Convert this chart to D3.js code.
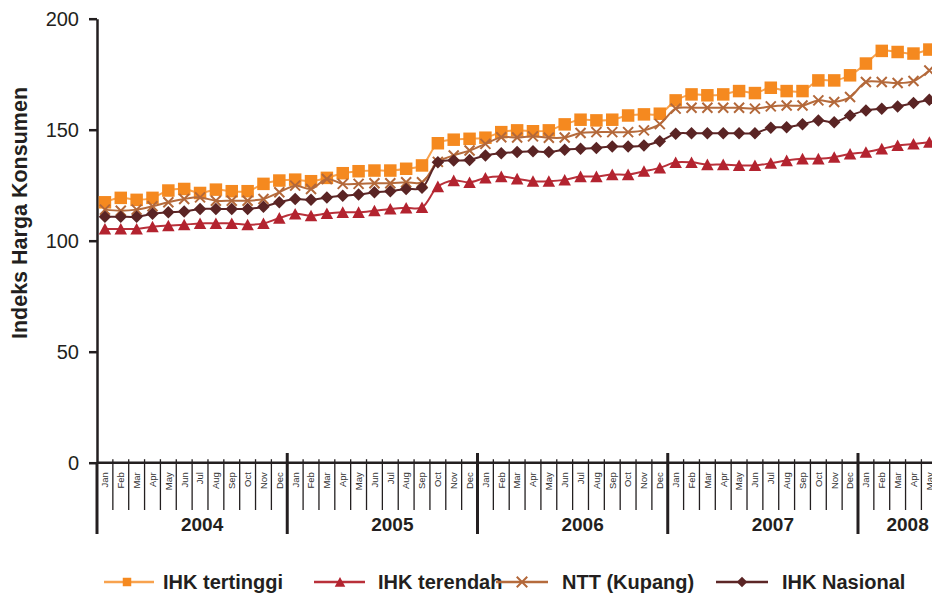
<!DOCTYPE html>
<html>
<head>
<meta charset="utf-8">
<script src="https://cdn.jsdelivr.net/npm/d3@7/dist/d3.min.js"></script>
<style>
  html, body { margin: 0; padding: 0; background: #fff; }
  svg { display: block; font-family: "Liberation Sans", Arial, Helvetica, sans-serif; }
</style>
</head>
<body>
<svg id="chart" width="932" height="595"></svg>
<script>
// Monthly consumer price index, Jan 2004 – May 2008
const monthNames = ["Jan","Feb","Mar","Apr","May","Jun","Jul","Aug","Sep","Oct","Nov","Dec"];
const years = ["2004","2005","2006","2007","2008"];
const monthsInYear = [12, 12, 12, 12, 5];
const yTicks = [0, 50, 100, 150, 200];

const ihkTertinggi = [
  117.3, 119.3, 118.4, 119.3, 122.6, 123.3, 121.5, 123.0, 122.3, 122.3, 125.6, 127.1,
  127.5, 126.8, 128.3, 130.4, 131.3, 131.6, 131.6, 132.4, 133.9, 143.9, 145.5, 145.9,
  146.4, 148.9, 149.7, 149.3, 149.7, 152.4, 154.5, 154.2, 154.5, 156.4, 156.9, 157.2,
  163.2, 165.9, 165.5, 165.9, 167.4, 166.5, 168.9, 167.4, 167.4, 172.2, 172.2, 174.5,
  179.8, 185.5, 185.0, 184.3, 186.1
];
const ihkTerendah = [
  105.3, 105.3, 105.3, 106.3, 106.8, 107.2, 107.8, 107.8, 107.8, 107.2, 107.8, 110.2,
  112.1, 111.3, 112.3, 112.8, 112.8, 113.5, 114.3, 114.8, 115.0, 124.4, 127.1, 126.3,
  128.3, 128.9, 127.9, 126.8, 126.8, 127.4, 128.9, 128.9, 129.8, 129.8, 131.3, 132.8,
  135.3, 135.3, 134.3, 134.3, 133.9, 133.9, 134.9, 136.1, 136.9, 136.9, 137.6, 139.1,
  139.9, 141.4, 142.9, 143.6, 144.4
];
const nttKupang = [
  114.0, 113.5, 114.0, 115.5, 117.3, 118.8, 119.5, 118.0, 118.0, 118.0, 118.8, 121.8,
  124.8, 123.3, 127.8, 125.6, 125.6, 125.9, 125.9, 126.3, 126.3, 135.5, 138.4, 140.6,
  143.6, 146.6, 146.5, 147.0, 146.4, 146.5, 148.5, 148.9, 148.9, 148.9, 149.7, 152.5,
  159.5, 159.9, 159.9, 159.9, 159.9, 159.5, 160.5, 160.9, 160.9, 163.2, 162.5, 164.7,
  171.5, 171.5, 171.0, 171.9, 176.7
];
const ihkNasional = [
  110.8, 110.8, 110.8, 112.1, 112.8, 113.1, 114.3, 114.3, 114.3, 114.3, 115.3, 117.3,
  118.8, 118.4, 119.5, 120.3, 120.8, 121.8, 122.3, 123.3, 123.8, 135.3, 136.1, 136.4,
  138.4, 139.4, 139.9, 140.3, 139.9, 141.0, 141.4, 141.8, 142.4, 142.4, 142.9, 144.8,
  148.2, 148.4, 148.4, 148.4, 148.4, 148.4, 150.9, 151.1, 152.4, 154.2, 153.4, 156.4,
  158.7, 159.4, 160.5, 162.0, 163.5
];
const seriesNames = ["IHK tertinggi", "IHK terendah", "NTT (Kupang)", "IHK Nasional"];

// Month labels for every period on the axis
const periods = [];
years.forEach((yr, yi) => {
  for (let m = 0; m < monthsInYear[yi]; m++) periods.push({ year: yr, month: monthNames[m] });
});
const idx = d3.range(periods.length);

const series = [
  { name: seriesNames[0], values: ihkTertinggi, line: "#F8A24E", fill: "#F5891F", marker: "square" },
  { name: seriesNames[1], values: ihkTerendah,  line: "#B9303A", fill: "#B3232F", marker: "triangle" },
  { name: seriesNames[2], values: nttKupang,    line: "#B56B3C", fill: "#B3683A", marker: "cross" },
  { name: seriesNames[3], values: ihkNasional,  line: "#5C2626", fill: "#5A2424", marker: "diamond" }
];

const svg = d3.select("#chart");
const ink = "#231F20";
const step = 15.854;
const x0 = 97;

const x = d3.scaleBand().domain(idx).range([x0, x0 + step * idx.length]).paddingInner(0).paddingOuter(0);
const y = d3.scaleLinear().domain([0, 200]).range([462.7, 18.7]);
const xc = i => x(i) + x.bandwidth() / 2;

function markerPath(type, s) {
  const h = s / 2;
  if (type === "square") return `M${-h},${-h}H${h}V${h}H${-h}Z`;
  if (type === "triangle") return `M0,${-h * 0.95}L${h},${h * 0.9}L${-h},${h * 0.9}Z`;
  if (type === "diamond") return `M0,${-h}L${h},0L0,${h}L${-h},0Z`;
  return `M${-h},${-h}L${h},${h}M${-h},${h}L${h},${-h}`;
}

// ---- Y axis ----
const yAxis = svg.append("g")
  .attr("transform", `translate(${x0},0)`)
  .call(d3.axisLeft(y).tickValues(yTicks).tickSize(8).tickSizeOuter(0).tickPadding(10));
yAxis.select(".domain").attr("stroke", ink).attr("stroke-width", 2.5);
yAxis.selectAll(".tick line").attr("stroke", ink).attr("stroke-width", 2.5);
yAxis.selectAll(".tick text").attr("fill", ink).attr("font-size", 20)
  .attr("font-family", "'Liberation Sans', Arial, sans-serif");

svg.append("text")
  .attr("transform", `translate(27,${213}) rotate(-90)`)
  .attr("text-anchor", "middle")
  .attr("font-size", 21.5).attr("font-weight", "bold").attr("fill", ink)
  .text("Indeks Harga Konsumen");

// ---- X axis (months) ----
const xAxis = svg.append("g")
  .attr("transform", `translate(0,${y(0)})`)
  .call(d3.axisBottom(x).tickSize(0).tickSizeOuter(0).tickFormat(i => periods[i].month));
xAxis.select(".domain").attr("stroke", ink).attr("stroke-width", 2.5)
  .attr("d", `M${x0},0H${x0 + step * idx.length}`);
xAxis.selectAll(".tick text")
  .attr("transform", "rotate(-90)")
  .attr("text-anchor", "end")
  .attr("x", -9.5).attr("y", 0).attr("dy", "0.35em")
  .attr("font-size", 9.5).attr("fill", "#333")
  .attr("font-family", "'Liberation Sans', Arial, sans-serif");

// month separators below the axis and small ticks above it
const boundaries = d3.range(1, idx.length).filter(i => periods[i].month !== "Jan");
svg.append("g").selectAll("line").data(boundaries).join("line")
  .attr("x1", i => x(i)).attr("x2", i => x(i))
  .attr("y1", y(0) - 3.5).attr("y2", 510)
  .attr("stroke", ink).attr("stroke-width", 1.3);

// year separators
const yearStarts = idx.filter(i => periods[i].month === "Jan");
svg.append("g").selectAll("line").data(yearStarts).join("line")
  .attr("x1", i => x(i)).attr("x2", i => x(i))
  .attr("y1", i => i === 0 ? y(0) : 453).attr("y2", 534)
  .attr("stroke", ink).attr("stroke-width", 3);

// year labels
svg.append("g").selectAll("text").data(years).join("text")
  .attr("x", (yr, yi) => {
    const first = yearStarts[yi];
    const n = monthsInYear[yi];
    return x(first) + (step * n) / 2 + 10;
  })
  .attr("y", 531)
  .attr("text-anchor", "middle")
  .attr("font-size", 19).attr("font-weight", "bold").attr("fill", ink)
  .text(d => d);

// ---- Series ----
const line = d3.line().x((d, i) => xc(i)).y(d => y(d)).curve(d3.curveCatmullRom.alpha(0.5));
series.forEach(s => {
  const g = svg.append("g");
  g.append("path").attr("d", line(s.values))
    .attr("fill", "none").attr("stroke", s.line).attr("stroke-width", 2);
  const marks = g.selectAll("path.m").data(s.values).join("path")
    .attr("class", "m")
    .attr("transform", (d, i) => `translate(${xc(i)},${y(d)})`)
    .attr("d", markerPath(s.marker, s.marker === "cross" ? 10 : 12.5));
  if (s.marker === "cross") marks.attr("fill", "none").attr("stroke", s.fill).attr("stroke-width", 2);
  else marks.attr("fill", s.fill);
});

// ---- Legend ----
const legendPos = [
  { x1: 104, x2: 154, mx: 127, tx: 163 },
  { x1: 314, x2: 365, mx: 340, tx: 378 },
  { x1: 496, x2: 548, mx: 522, tx: 562 },
  { x1: 716, x2: 768, mx: 742, tx: 782 }
];
const legendY = 582;
const legend = svg.append("g").selectAll("g").data(series).join("g");
legend.append("line")
  .attr("x1", (d, i) => legendPos[i].x1).attr("x2", (d, i) => legendPos[i].x2)
  .attr("y1", legendY).attr("y2", legendY)
  .attr("stroke", d => d.line).attr("stroke-width", 2.5);
legend.append("path")
  .attr("transform", (d, i) => `translate(${legendPos[i].mx},${legendY})`)
  .attr("d", d => markerPath(d.marker, d.marker === "square" ? 8.5 : 10.5))
  .attr("fill", d => d.marker === "cross" ? "none" : d.fill)
  .attr("stroke", d => d.marker === "cross" ? d.fill : "none")
  .attr("stroke-width", 2);
legend.append("text")
  .attr("x", (d, i) => legendPos[i].tx).attr("y", 589)
  .attr("font-size", 20).attr("font-weight", "bold").attr("fill", ink)
  .text(d => d.name);
</script>
</body>
</html>
